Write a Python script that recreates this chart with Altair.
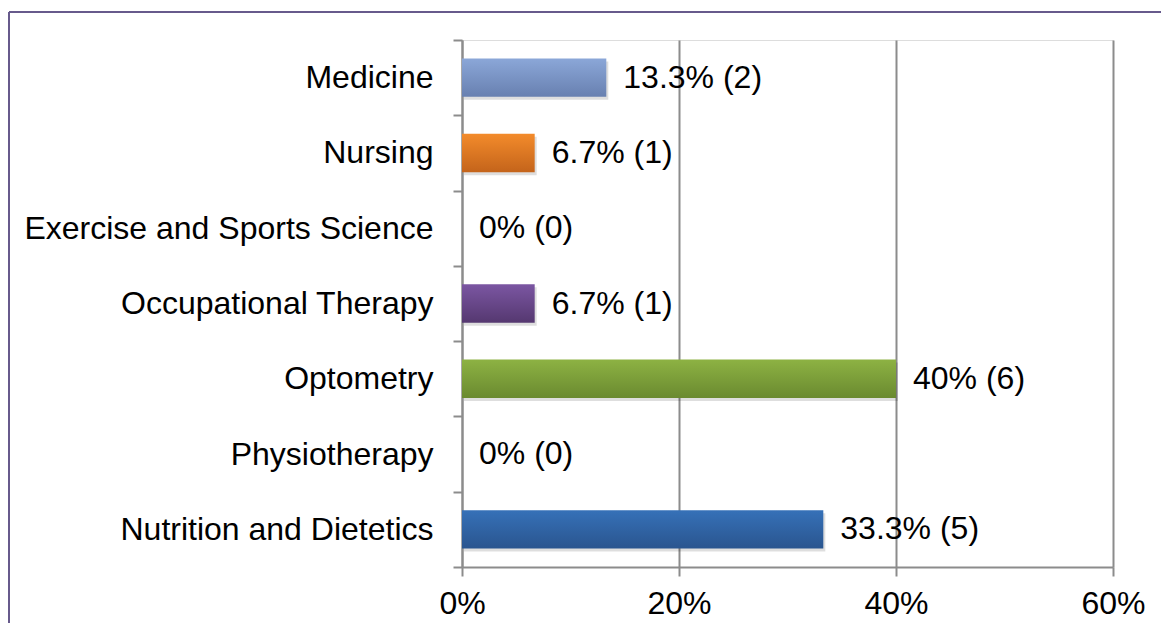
import altair as alt
import pandas as pd

categories = ["Medicine", "Nursing", "Exercise and Sports Science",
              "Occupational Therapy", "Optometry", "Physiotherapy",
              "Nutrition and Dietetics"]
percents = [13.3, 6.7, 0, 6.7, 40, 0, 33.3]
counts = [2, 1, 0, 1, 6, 0, 5]
labels = ["13.3% (2)", "6.7% (1)", "0% (0)", "6.7% (1)", "40% (6)", "0% (0)", "33.3% (5)"]
top_colors = ["#8ba7d8", "#f38b2b", "#999999", "#7b56a2", "#8db243", "#999999", "#3671b8"]
bottom_colors = ["#6880b0", "#c4641b", "#777777", "#553870", "#6a8a30", "#777777", "#2a558f"]
x_ticks = [0, 20, 40, 60]

df = pd.DataFrame({"category": categories, "pct": percents,
                   "count": counts, "label": labels})

FONT = "Liberation Sans"
GRID = "#8c8c8c"
FS = 32

y_def = alt.Y("category:N", sort=categories,
              scale=alt.Scale(domain=categories, paddingInner=0, paddingOuter=0),
              axis=alt.Axis(title=None, tickBand="extent", tickSize=9, tickColor=GRID,
                            tickWidth=2, domainColor=GRID, domainWidth=2,
                            labelFont=FONT, labelFontSize=FS, labelColor="black",
                            labelPadding=20, labelLimit=600, grid=False))
x_def = alt.X("pct:Q", scale=alt.Scale(domain=[0, 60], nice=False),
              axis=alt.Axis(title=None, values=x_ticks, grid=True, gridColor=GRID,
                            gridWidth=2, tickSize=9, tickColor=GRID, tickWidth=2,
                            domainColor=GRID, domainWidth=2, labelFont=FONT,
                            labelFontSize=FS, labelColor="black", labelPadding=12,
                            labelFlush=False,
                            labelExpr="datum.value + '%'"))

base = alt.Chart(df)
BAR_H = alt.RelativeBandSize(0.51)

shadow = base.mark_bar(color="#000000", opacity=0.13, xOffset=2, yOffset=3,
                       height=BAR_H).encode(x=x_def, y=y_def)

layers = [shadow]
for cat, c1, c2 in zip(categories, top_colors, bottom_colors):
    grad = alt.Gradient(gradient="linear", x1=0, y1=0, x2=0, y2=1,
                        stops=[alt.GradientStop(color=c1, offset=0),
                               alt.GradientStop(color=c2, offset=1)])
    layers.append(base.mark_bar(fill=grad, height=BAR_H).encode(x=x_def, y=y_def)
                  .transform_filter(alt.datum.category == cat))

text = base.mark_text(align="left", baseline="middle", dx=17, font=FONT,
                      fontSize=FS, color="black").encode(x=x_def, y=y_def, text="label:N")
layers.append(text)

border_top = alt.Chart(pd.DataFrame({"k": [0]})).mark_rule(
    color="#675a8c", strokeWidth=2).encode(
    x=alt.value(-453), x2=alt.value(800), y=alt.value(-28))
border_left = alt.Chart(pd.DataFrame({"k": [0]})).mark_rule(
    color="#675a8c", strokeWidth=2).encode(
    x=alt.value(-453), y=alt.value(-28), y2=alt.value(700))
layers += [border_top, border_left]

chart = alt.layer(*layers).properties(
    width=651, height=527, autosize="none",
    padding={"left": 454, "top": 32, "right": 48, "bottom": 56}
).configure_view(stroke=None).configure(background="white")

chart.save("out.html", embed_options={"renderer": "svg", "actions": False})
